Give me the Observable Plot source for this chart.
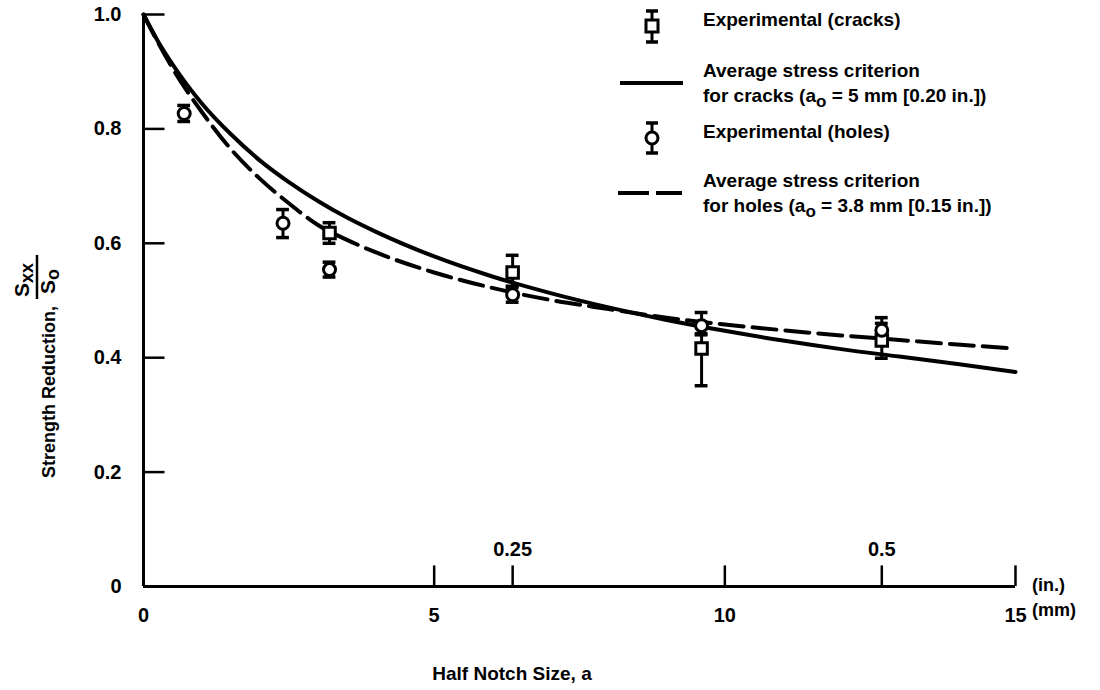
<!DOCTYPE html>
<html>
<head>
<meta charset="utf-8">
<script src="https://cdn.jsdelivr.net/npm/d3@7"></script>
<script src="https://cdn.jsdelivr.net/npm/@observablehq/plot@0.6"></script>
<style>
  html, body { margin: 0; padding: 0; background: #fff; }
  #chart svg { display: block; }
</style>
</head>
<body>
<div id="chart"></div>
<script>
// ---- data ----
const crackX  = [3.2, 6.35, 9.6, 12.7];
const crackY  = [0.618, 0.549, 0.416, 0.430];
const crackLo = [0.600, 0.525, 0.351, 0.399];
const crackHi = [0.636, 0.579, 0.440, 0.470];

const holeX  = [0.7, 2.4, 3.2, 6.35, 9.6, 12.7];
const holeY  = [0.827, 0.635, 0.554, 0.510, 0.456, 0.448];
const holeLo = [0.813, 0.610, 0.541, 0.497, 0.442, 0.436];
const holeHi = [0.841, 0.659, 0.567, 0.523, 0.479, 0.460];

const curveX      = [0, 0.25, 0.5, 0.75, 1, 1.5, 2, 2.5, 3, 3.5, 4, 5, 6, 7, 8, 9, 10, 11, 12, 13, 14, 15];
const crackCurveY = [1.0, 0.953, 0.913, 0.877, 0.845, 0.791, 0.745, 0.707, 0.674, 0.645, 0.620, 0.577, 0.542, 0.513, 0.488, 0.466, 0.447, 0.430, 0.415, 0.402, 0.389, 0.375];
const holeCurveY  = [1.0, 0.951, 0.906, 0.866, 0.830, 0.765, 0.713, 0.670, 0.632, 0.606, 0.584, 0.549, 0.522, 0.501, 0.485, 0.470, 0.458, 0.448, 0.439, 0.431, 0.423, 0.416];

const yTicks = [0, 0.2, 0.4, 0.6, 0.8, 1.0];
const yTickLabels = ["0", "0.2", "0.4", "0.6", "0.8", "1.0"];
const mmTicks = [0, 5, 10, 15];
const inchTicks = [0.25, 0.5];
const inchTickLabels = ["0.25", "0.5"];

// ---- tables built from arrays ----
const cracks = crackX.map((x, i) => ({x, y: crackY[i], lo: crackLo[i], hi: crackHi[i]}));
const holes = holeX.map((x, i) => ({x, y: holeY[i], lo: holeLo[i], hi: holeHi[i]}));
const crackCurve = curveX.map((x, i) => ({x, y: crackCurveY[i]}));
const holeCurve = curveX.map((x, i) => ({x, y: holeCurveY[i]}));
const inchMM = inchTicks.map((v, i) => ({x: v * 25.4, label: inchTickLabels[i]}));
const yLab = yTicks.map((v, i) => ({y: v, label: yTickLabels[i]}));

const capW = 0.11; // half cap width in mm
const FONT = "'Liberation Sans', Arial, Helvetica, sans-serif";

const chart = Plot.plot({
  width: 1100,
  height: 690,
  marginLeft: 143,
  marginRight: 85,
  marginTop: 14,
  marginBottom: 104,
  x: {domain: [0, 15]},
  y: {domain: [0, 1], axis: null},
  style: {fontFamily: FONT, fontWeight: "bold", fontSize: "19px", color: "#000", background: "#fff"},
  marks: [
    // axes lines
    Plot.ruleY([0], {stroke: "#000", strokeWidth: 3}),
    Plot.ruleX([0], {stroke: "#000", strokeWidth: 3}),
    // inward y ticks
    Plot.ruleY(yTicks.filter(d => d > 0), {y: d => d, x1: 0, x2: 0.37, stroke: "#000", strokeWidth: 2.5}),
    // upward x ticks (mm and inch)
    Plot.ruleX([5, 10, 15, ...inchTicks.map(v => v * 25.4)], {x: d => d, y1: 0, y2: 0.036, stroke: "#000", strokeWidth: 2.5}),
    // y tick labels
    Plot.text(yLab, {x: 0, y: "y", text: "label", dx: -22, textAnchor: "end", fontSize: 20, fontWeight: "bold"}),
    // mm tick labels
    Plot.axisX({ticks: mmTicks, tickFormat: d => String(d), tickSize: 0, tickPadding: 21, label: null, fontSize: 20}),
    // inch tick labels
    Plot.text(inchMM, {x: "x", y: 0, text: "label", dy: -37, fontSize: 20, fontWeight: "bold"}),
    // curves
    Plot.line(crackCurve, {x: "x", y: "y", curve: "monotone-x", stroke: "#000", strokeWidth: 4}),
    Plot.line(holeCurve, {x: "x", y: "y", curve: "monotone-x", stroke: "#000", strokeWidth: 4, strokeDasharray: "24,9"}),
    // error bars
    Plot.ruleX(cracks, {x: "x", y1: "lo", y2: "hi", stroke: "#000", strokeWidth: 3}),
    Plot.ruleY(cracks, {y: "lo", x1: d => d.x - capW, x2: d => d.x + capW, stroke: "#000", strokeWidth: 3.5}),
    Plot.ruleY(cracks, {y: "hi", x1: d => d.x - capW, x2: d => d.x + capW, stroke: "#000", strokeWidth: 3.5}),
    Plot.ruleX(holes, {x: "x", y1: "lo", y2: "hi", stroke: "#000", strokeWidth: 3}),
    Plot.ruleY(holes, {y: "lo", x1: d => d.x - capW, x2: d => d.x + capW, stroke: "#000", strokeWidth: 3.5}),
    Plot.ruleY(holes, {y: "hi", x1: d => d.x - capW, x2: d => d.x + capW, stroke: "#000", strokeWidth: 3.5}),
    // markers
    Plot.dot(cracks, {x: "x", y: "y", symbol: "square", r: 6.5, fill: "#fff", stroke: "#000", strokeWidth: 3}),
    Plot.dot(holes, {x: "x", y: "y", symbol: "circle", r: 6, fill: "#fff", stroke: "#000", strokeWidth: 3})
  ]
});

document.getElementById("chart").appendChild(chart);

// ---- annotations: legend, units, axis titles ----
const svg = d3.select(chart);
const g = svg.append("g").attr("font-family", FONT).attr("font-weight", "bold").attr("fill", "#000").attr("text-anchor", "start");

function addText(x, y, parts, size, anchor) {
  const t = g.append("text").attr("x", x).attr("y", y).attr("font-size", size)
    .attr("text-anchor", anchor || "start").attr("dominant-baseline", "middle");
  parts.forEach(p => {
    if (typeof p === "string") t.append("tspan").text(p);
    else t.append("tspan").attr("dy", p.dy).attr("font-size", p.size).text(p.t);
  });
  return t;
}

// legend symbols
function errSymbol(cx, cy, top, bot, kind) {
  g.append("line").attr("x1", cx).attr("x2", cx).attr("y1", top).attr("y2", bot).attr("stroke", "#000").attr("stroke-width", 3);
  [top, bot].forEach(y => g.append("line").attr("x1", cx - 6).attr("x2", cx + 6).attr("y1", y).attr("y2", y).attr("stroke", "#000").attr("stroke-width", 3.5));
  if (kind === "square") g.append("rect").attr("x", cx - 6).attr("y", cy - 6).attr("width", 12).attr("height", 12).attr("fill", "#fff").attr("stroke", "#000").attr("stroke-width", 3);
  else g.append("circle").attr("cx", cx).attr("cy", cy).attr("r", 6).attr("fill", "#fff").attr("stroke", "#000").attr("stroke-width", 3);
}
errSymbol(652, 26, 11, 42, "square");
errSymbol(652, 138, 123, 153, "circle");
g.append("line").attr("x1", 620).attr("x2", 683).attr("y1", 83).attr("y2", 83).attr("stroke", "#000").attr("stroke-width", 4);
g.append("line").attr("x1", 618).attr("x2", 682).attr("y1", 193).attr("y2", 193).attr("stroke", "#000").attr("stroke-width", 4).attr("stroke-dasharray", "31,7");

addText(703, 21, ["Experimental (cracks)"], 19);
addText(703, 72, ["Average stress criterion"], 19);
addText(703, 97, ["for cracks (a", {t: "o", dy: 6, size: 17}, {t: " = 5 mm [0.20 in.])", dy: -6, size: 19}], 19);
addText(703, 133, ["Experimental (holes)"], 19);
addText(703, 182, ["Average stress criterion"], 19);
addText(703, 207, ["for holes (a", {t: "o", dy: 6, size: 17}, {t: " = 3.8 mm [0.15 in.])", dy: -6, size: 19}], 19);

// units
addText(1032, 586, ["(in.)"], 18);
addText(1032, 611, ["(mm)"], 18);

// x-axis title
addText(512, 675, ["Half Notch Size, a"], 19, "middle");

// y-axis title (rotated)
const yt = g.append("g").attr("transform", "translate(50, 478) rotate(-90)").attr("text-anchor", "start");
yt.append("text").attr("x", 0).attr("y", 0).attr("font-size", 18).attr("text-anchor", "start").attr("dominant-baseline", "middle").text("Strength Reduction,");
// fraction Sxx / So
const fx = 181;
yt.append("text").attr("x", fx).attr("y", -27).attr("font-size", 21).attr("text-anchor", "start").attr("dominant-baseline", "middle")
  .call(t => { t.append("tspan").text("S"); t.append("tspan").attr("dy", 5).attr("font-size", 18).text("xx"); });
yt.append("line").attr("x1", fx - 2).attr("x2", fx + 42).attr("y1", -13).attr("y2", -13).attr("stroke", "#000").attr("stroke-width", 2.5);
yt.append("text").attr("x", fx + 3).attr("y", -1).attr("font-size", 21).attr("text-anchor", "start").attr("dominant-baseline", "middle")
  .call(t => { t.append("tspan").text("S"); t.append("tspan").attr("dy", 5).attr("font-size", 18).text("o"); });
</script>
</body>
</html>
